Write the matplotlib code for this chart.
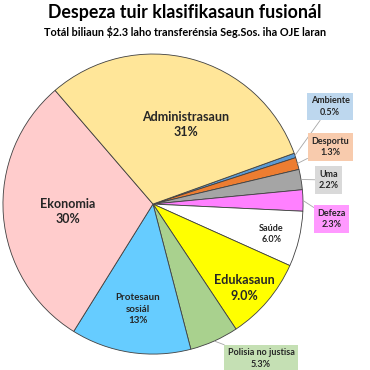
import matplotlib
matplotlib.use('Agg')
import matplotlib.pyplot as plt
import numpy as np

plt.rcParams['font.family'] = ['Lato', 'DejaVu Sans']

# slices, clockwise from Ambiente
categories = ['Ambiente', 'Desportu', 'Uma', 'Defeza', 'Saúde', 'Edukasaun',
              'Polisia no justisa', 'Protesaun\nsosiál', 'Ekonomia', 'Administrasaun']
values = [0.5, 1.3, 2.2, 2.3, 6.0, 9.0, 5.3, 13, 30, 31]
pct_labels = ['0.5%', '1.3%', '2.2%', '2.3%', '6.0%', '9.0%', '5.3%', '13%', '30%', '31%']

colors = ['#5B9BD5', '#ED7D31', '#A5A5A5', '#FF80FF', '#FFFFFF', '#FFFF00',
          '#A9D18E', '#66CCFF', '#FFCCCC', '#FFE699']
box_colors = {'Ambiente': '#BDD7EE', 'Desportu': '#F8CBAD', 'Uma': '#D9D9D9',
              'Defeza': '#FF99FF', 'Polisia no justisa': '#C5E0B4'}

# label placement (data coords, pie radius 1)
label_pos = {'Administrasaun': (0.22, 0.53), 'Ekonomia': (-0.57, -0.05),
             'Protesaun\nsosiál': (-0.10, -0.70), 'Edukasaun': (0.61, -0.56),
             'Saúde': (0.79, -0.20), 'Ambiente': (1.18, 0.65),
             'Desportu': (1.18, 0.38), 'Uma': (1.17, 0.16),
             'Defeza': (1.19, -0.10), 'Polisia no justisa': (0.72, -1.03)}
label_size = {'Administrasaun': 9, 'Ekonomia': 9, 'Edukasaun': 9,
              'Protesaun\nsosiál': 7, 'Saúde': 6.5}

fig = plt.figure(figsize=(3.7, 3.7), dpi=100)
ax = fig.add_axes([0.008, 0.043, 0.811, 0.811])

wedges, _ = ax.pie(values, colors=colors, startangle=19.8, counterclock=False,
                   wedgeprops=dict(edgecolor='#404040', linewidth=0.6))
ax.set_xlim(-1, 1)
ax.set_ylim(-1, 1)
ax.set_aspect('equal')
ax.axis('off')

for w, cat, pct in zip(wedges, categories, pct_labels):
    x, y = label_pos[cat]
    txt = cat + '\n' + pct
    if cat in box_colors:
        ang = np.deg2rad((w.theta1 + w.theta2) / 2)
        ex, ey = np.cos(ang), np.sin(ang)
        ax.annotate(txt, xy=(ex, ey), xytext=(x, y), ha='center', va='center',
                    fontsize=6.5, fontweight='bold', color='#262626', linespacing=1.35,
                    bbox=dict(boxstyle='square,pad=0.4', fc=box_colors[cat], ec='none'),
                    arrowprops=dict(arrowstyle='-', color='#A6A6A6', lw=0.6,
                                    shrinkA=0, shrinkB=0))
    else:
        ax.text(x, y, txt, ha='center', va='center', fontsize=label_size[cat],
                fontweight='bold', color='#262626', linespacing=1.35)

fig.text(0.5, 0.965, 'Despeza tuir klasifikasaun fusionál', ha='center', va='center',
         fontsize=12.8, fontweight='bold', color='black')
fig.text(0.5, 0.913, 'Totál biliaun $2.3 laho transferénsia Seg.Sos. iha OJE laran',
         ha='center', va='center', fontsize=7.8, fontweight='bold', color='black')

fig.savefig('out.png', dpi=100)
